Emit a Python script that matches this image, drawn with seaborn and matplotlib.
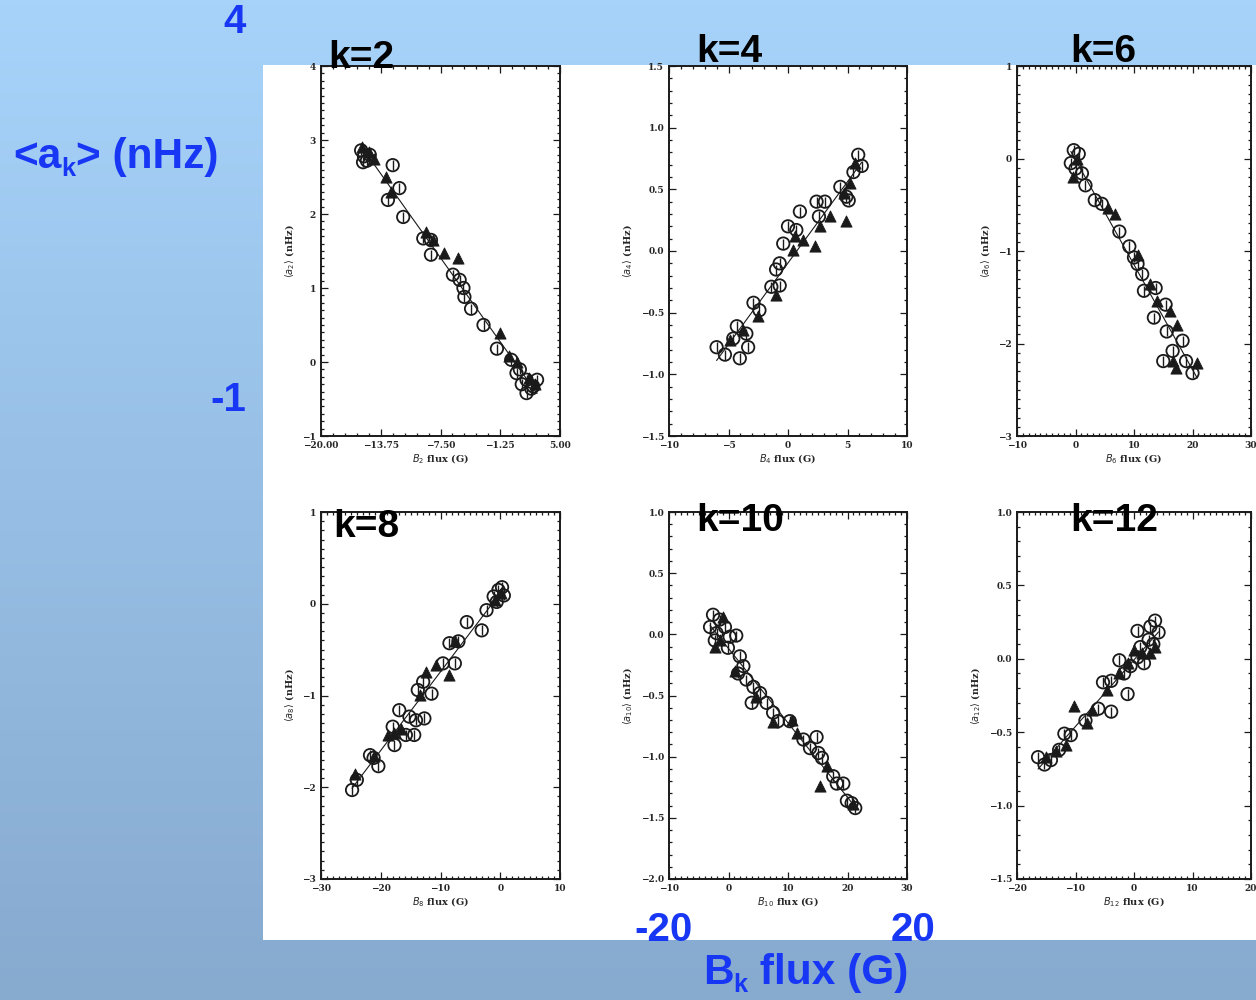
import numpy as np
import pandas as pd
import matplotlib
matplotlib.use("Agg")
import matplotlib.pyplot as plt
from matplotlib.patches import Rectangle
from matplotlib.ticker import AutoMinorLocator, FixedLocator
import seaborn as sns

# ---- data: mean a_k coefficient vs. B_k magnetic flux ----
k2_circ_x = [-15.8, -15.5, -15.2, -14.9, -15.6, -12.5, -11.8, -13.0, -11.4, -9.3, -8.5, -8.5, -6.2, -5.5,
             -5.1, -5.0, -4.3, -3.0, -1.6, -0.1, 0.45, 0.8, 1.5, 2.2, 2.6, 1.5, 1.0, 2.0]
k2_circ_y = [2.86, 2.78, 2.72, 2.80, 2.70, 2.66, 2.35, 2.19, 1.96, 1.67, 1.65, 1.45, 1.18, 1.11,
             1.00, 0.88, 0.72, 0.50, 0.18, 0.03, -0.15, -0.10, -0.24, -0.33, -0.24, -0.42, -0.30, -0.36]
k2_tri_x = [-15.7, -15.0, -14.5, -13.2, -12.7, -9.0, -8.3, -7.1, -5.7, -1.3, -0.3, 0.5, 1.8, 2.4]
k2_tri_y = [2.90, 2.84, 2.74, 2.50, 2.30, 1.76, 1.65, 1.47, 1.40, 0.39, 0.08, 0.00, -0.22, -0.30]

k4_circ_x = [-6.0, -5.3, -4.05, -3.35, -4.6, -4.3, -3.5, -2.9, -2.4, -1.4, -0.7, -1.0, -0.7, -0.4, 0.0,
             1.0, 0.7, 2.4, 3.1, 2.6, 4.4, 4.9, 5.1, 5.9, 6.2, 5.5]
k4_circ_y = [-0.78, -0.84, -0.87, -0.78, -0.71, -0.61, -0.67, -0.42, -0.48, -0.29, -0.28, -0.15, -0.10,
             0.06, 0.20, 0.32, 0.17, 0.40, 0.40, 0.28, 0.52, 0.44, 0.41, 0.78, 0.69, 0.64]
k4_tri_x = [-4.9, -3.8, -2.5, -1.0, 0.6, 1.3, 2.3, 0.45, 2.7, 3.5, 4.9, 4.7, 5.2, 5.6]
k4_tri_y = [-0.72, -0.64, -0.53, -0.36, 0.12, 0.09, 0.04, 0.01, 0.20, 0.28, 0.24, 0.47, 0.55, 0.71]

k6_circ_x = [-0.3, 0.55, -0.8, 0.0, 1.1, 1.7, 3.3, 4.5, 7.5, 9.2, 10.0, 10.6, 11.4, 11.7, 13.7, 15.4,
             13.4, 15.6, 15.0, 16.6, 18.3, 20.0, 18.9]
k6_circ_y = [0.09, 0.05, -0.05, -0.11, -0.16, -0.29, -0.45, -0.49, -0.79, -0.95, -1.07, -1.14, -1.25,
             -1.43, -1.40, -1.58, -1.72, -1.87, -2.19, -2.08, -1.97, -2.32, -2.19]
k6_tri_x = [0.3, -0.4, 5.6, 6.7, 10.6, 12.8, 14.0, 16.1, 17.3, 20.8, 16.6, 17.2]
k6_tri_y = [0.00, -0.20, -0.53, -0.60, -1.04, -1.36, -1.54, -1.65, -1.80, -2.21, -2.19, -2.27]

k8_circ_x = [-24.8, -24.0, -21.8, -20.4, -21.2, -18.0, -17.7, -16.9, -15.8, -14.4, -14.1, -12.7, -15.2,
             -13.8, -11.5, -12.9, -9.6, -7.6, -8.5, -7.0, -5.6, -3.1, -2.3, -1.1, -0.3, 0.6, -0.6, 0.3]
k8_circ_y = [-2.03, -1.92, -1.65, -1.77, -1.68, -1.34, -1.54, -1.16, -1.43, -1.43, -1.27, -1.25, -1.23,
             -0.94, -0.98, -0.85, -0.65, -0.65, -0.43, -0.41, -0.20, -0.29, -0.07, 0.08, 0.15, 0.09, 0.02, 0.18]
k8_tri_x = [-24.25, -21.1, -18.8, -17.7, -16.6, -12.4, -13.5, -10.7, -8.5, -7.6, -0.8, 0.2]
k8_tri_y = [-1.86, -1.66, -1.43, -1.41, -1.37, -0.74, -0.99, -0.67, -0.78, -0.41, 0.04, 0.12]

k10_circ_x = [-2.6, -1.5, -3.1, -2.0, -0.6, 0.2, 1.3, -2.3, -0.1, 1.9, 2.5, 1.6, 3.0, 4.2, 5.3, 3.9, 6.4,
              7.5, 8.3, 10.3, 12.6, 14.8, 13.7, 15.1, 15.7, 17.6, 19.3, 18.2, 19.9, 21.3, 20.7]
k10_circ_y = [0.16, 0.12, 0.06, 0.01, 0.06, -0.02, -0.01, -0.05, -0.11, -0.18, -0.26, -0.32, -0.37,
              -0.43, -0.48, -0.56, -0.56, -0.64, -0.71, -0.71, -0.86, -0.84, -0.93, -0.97, -1.01,
              -1.16, -1.22, -1.22, -1.36, -1.42, -1.38]
k10_tri_x = [-1.5, -2.3, -0.9, 1.1, 4.7, 7.5, 10.6, 11.5, 16.5, 15.4, 21.0]
k10_tri_y = [-0.05, -0.10, 0.14, -0.30, -0.51, -0.72, -0.70, -0.81, -1.08, -1.24, -1.39]

k12_circ_x = [-16.4, -15.3, -14.2, -12.8, -11.9, -10.8, -8.3, -6.1, -3.9, -5.3, -3.9, -2.5, -1.1, -1.7,
              -0.6, 0.6, 1.1, 1.7, 0.6, 2.5, 3.6, 4.2, 3.3, 2.8]
k12_circ_y = [-0.67, -0.72, -0.69, -0.62, -0.51, -0.52, -0.42, -0.34, -0.36, -0.16, -0.15, -0.01, -0.24,
              -0.10, -0.05, 0.01, 0.08, -0.03, 0.19, 0.13, 0.26, 0.18, 0.10, 0.22]
k12_tri_x = [-15.0, -13.3, -11.7, -10.3, -8.1, -7.2, -4.7, 0.0, 1.4, 2.8, -1.1, -2.5, 3.6]
k12_tri_y = [-0.67, -0.63, -0.59, -0.32, -0.44, -0.35, -0.21, 0.06, 0.04, 0.04, -0.03, -0.10, 0.08]

panel_k = [2, 4, 6, 8, 10, 12]
x_limits = [(-20, 5), (-10, 10), (-10, 30), (-30, 10), (-10, 30), (-20, 20)]
y_limits = [(-1, 4), (-1.5, 1.5), (-3, 1), (-3, 1), (-2, 1), (-1.5, 1.0)]
x_major = [6.25, 5, 10, 10, 10, 10]
y_major = [1, 0.5, 1, 1, 0.5, 0.5]
x_fmt = ["{:.2f}", "{:.0f}", "{:.0f}", "{:.0f}", "{:.0f}", "{:.0f}"]
y_fmt = ["{:.0f}", "{:.1f}", "{:.0f}", "{:.0f}", "{:.1f}", "{:.1f}"]
x_minor = [5, 5, 10, 10, 10, 10]
y_minor = [10, 5, 10, 10, 5, 5]

panel_data = [
    (k2_circ_x, k2_circ_y, k2_tri_x, k2_tri_y),
    (k4_circ_x, k4_circ_y, k4_tri_x, k4_tri_y),
    (k6_circ_x, k6_circ_y, k6_tri_x, k6_tri_y),
    (k8_circ_x, k8_circ_y, k8_tri_x, k8_tri_y),
    (k10_circ_x, k10_circ_y, k10_tri_x, k10_tri_y),
    (k12_circ_x, k12_circ_y, k12_tri_x, k12_tri_y),
]

# ---- figure ----
sns.set_style("ticks")
plt.rcParams["font.family"] = ["DejaVu Serif"]
W, H = 1256, 1000
fig = plt.figure(figsize=(W / 100, H / 100), dpi=100)


def fx(px):
    return px / W


def fy(py):
    return 1 - py / H


# slide background: vertical blue gradient
bg = fig.add_axes([0, 0, 1, 1], zorder=-10)
top = np.array([167, 211, 250]) / 255
bot = np.array([135, 170, 207]) / 255
t = np.linspace(0, 1, 256)[:, None]
grad = (top[None, :] * (1 - t) + bot[None, :] * t)[:, None, :]
bg.imshow(grad, aspect="auto", extent=[0, 1, 0, 1], origin="upper")
bg.set_axis_off()

# white figure area
fig.add_artist(Rectangle((fx(263), fy(940)), fx(1256) - fx(263), fy(65) - fy(940),
                         transform=fig.transFigure, facecolor="white", edgecolor="none", zorder=-5))

col_px = [(321, 560), (669, 907), (1017, 1251)]
row_px = [(66, 436), (512, 879)]

tick_font = dict(family="DejaVu Serif", size=6.5, weight="bold")
ink = "#1a1a1a"

for i, k in enumerate(panel_k):
    r, c = divmod(i, 3)
    l, rr = col_px[c]
    tp, bt = row_px[r]
    ax = fig.add_axes([fx(l), fy(bt), fx(rr) - fx(l), fy(tp) - fy(bt)])
    ax.set_facecolor("white")
    cx, cy, tx, ty = panel_data[i]
    circ = pd.DataFrame({"x": cx, "y": cy})
    tri = pd.DataFrame({"x": tx, "y": ty})
    both = pd.concat([circ, tri], ignore_index=True)

    sns.regplot(data=both, x="x", y="y", scatter=False, ci=None, ax=ax,
                line_kws=dict(color=ink, lw=0.8, zorder=1))
    sns.scatterplot(data=circ, x="x", y="y", ax=ax, marker="o", s=80,
                    facecolor="none", edgecolor=ink, linewidth=1.3, zorder=3)
    sns.scatterplot(data=circ, x="x", y="y", ax=ax, marker="|", s=60,
                    color=ink, linewidth=1.0, zorder=3)
    sns.scatterplot(data=tri, x="x", y="y", ax=ax, marker="^", s=65,
                    color=ink, edgecolor=ink, linewidth=0.6, zorder=4)

    ax.set_xlim(*x_limits[i])
    ax.set_ylim(*y_limits[i])
    x0, x1 = x_limits[i]
    xt = np.arange(x0, x1 + 1e-9, x_major[i])
    y0, y1 = y_limits[i]
    yt = np.arange(y0, y1 + 1e-9, y_major[i])
    ax.xaxis.set_major_locator(FixedLocator(xt))
    ax.yaxis.set_major_locator(FixedLocator(yt))
    ax.set_xticklabels([x_fmt[i].format(v).replace("-", "\u2212") for v in xt], fontdict=tick_font)
    ax.set_yticklabels([y_fmt[i].format(v).replace("-", "\u2212") for v in yt], fontdict=tick_font)
    ax.xaxis.set_minor_locator(AutoMinorLocator(x_minor[i]))
    ax.yaxis.set_minor_locator(AutoMinorLocator(y_minor[i]))
    ax.tick_params(which="both", direction="in", top=True, right=True, color=ink, width=0.9,
                   labelcolor="#262626")
    ax.tick_params(which="major", length=5, pad=3.5)
    ax.tick_params(which="minor", length=2.5)
    for sp in ax.spines.values():
        sp.set_linewidth(1.4)
        sp.set_color(ink)
    ax.set_xlabel(r"$B_{%d}$ flux (G)" % k, fontsize=7, fontweight="bold", labelpad=2, color="#262626")
    ax.set_ylabel(r"$\langle a_{%d}\rangle$ (nHz)" % k, fontsize=7, fontweight="bold", labelpad=4,
                  color="#262626")

# panel titles
k_labels = [("k=2", 361, 58), ("k=4", 729, 52), ("k=6", 1103, 52),
            ("k=8", 366, 527), ("k=10", 740, 521), ("k=12", 1114, 521)]
for txt, px, py in k_labels:
    fig.text(fx(px), fy(py), txt, ha="center", va="center", fontsize=28, fontweight="bold",
             family="Liberation Sans", color="black", zorder=20)

# slide annotations
blue = "#1737f5"
sans = dict(family="Liberation Sans", fontweight="bold", color=blue, zorder=20)
fig.text(fx(235), fy(22), "4", ha="center", va="center", fontsize=29, **sans)
fig.text(fx(228), fy(400), "-1", ha="center", va="center", fontsize=29, **sans)
fig.text(fx(663), fy(930), "-20", ha="center", va="center", fontsize=29, **sans)
fig.text(fx(913), fy(930), "20", ha="center", va="center", fontsize=29, **sans)

renderer = fig.canvas.get_renderer()


def subscript_label(parts, x_px, base_px, size):
    """Write a run of text pieces; pieces flagged True are lowered and shrunk."""
    x = x_px
    for txt, is_sub in parts:
        fs = size * 0.6 if is_sub else size
        yb = base_px + (size * 0.27 if is_sub else 0)
        t = fig.text(fx(x), fy(yb), txt, ha="left", va="baseline", fontsize=fs, **sans)
        bb = t.get_window_extent(renderer)
        x += bb.width


subscript_label([("<a", False), ("k", True), ("> (nHz)", False)], 13, 168, 30.5)
subscript_label([("B", False), ("k", True), (" flux (G)", False)], 703, 984, 30.5)

fig.savefig("out.png", dpi=100)
